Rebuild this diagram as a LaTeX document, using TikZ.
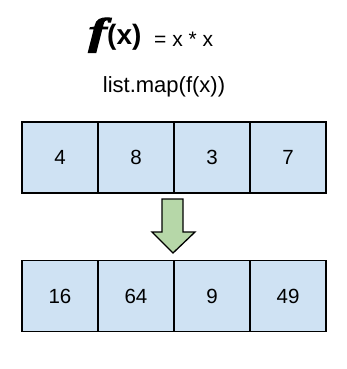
\documentclass[tikz,border=0pt]{standalone}
\usepackage{amsmath,amssymb}
\usepackage{fontspec}
\setmainfont{Liberation Sans}
\newfontfamily\fnfont[FakeBold=2.5]{Liberation Serif}
\usepackage{tikz}

\definecolor{cellblue}{HTML}{CFE2F3}
\definecolor{arrowgreen}{HTML}{B6D7A8}

\begin{document}
\begin{tikzpicture}[x=1pt,y=-1pt,
    cell/.style={draw,fill=cellblue,line width=1.4pt,minimum width=76pt,
      minimum height=71pt,inner sep=0pt,font=\fontsize{20.5}{24}\selectfont}]
  \useasboundingbox (0,0) rectangle (347,369);
  % the function and the call
  \node[anchor=base east,inner sep=0pt] (fname) at (107,44.5)
    {\fontsize{38}{40}\fnfont\bfseries\itshape\scalebox{1.45}[1]{f}};
  \node[anchor=base west,inner sep=0pt] (farg) at (107,44.5)
    {\fontsize{28}{30}\selectfont\bfseries(x)};
  \node[anchor=base west,inner sep=0pt] (fbody) at (154,46)
    {\fontsize{21}{24}\selectfont= x * x};
  \node[anchor=base,inner sep=0pt] (call) at (164,92)
    {\fontsize{22}{26}\selectfont list.map(f(x))};
  % input list and mapped list
  \foreach \v [count=\i] in {4,8,3,7}
    \node[cell] (in\i) at ({-16+76*\i},157.5) {\v};
  \foreach \v [count=\i] in {16,64,9,49}
    \node[cell] (out\i) at ({-16+76*\i},296) {\v};
  % block arrow between the rows
  \draw[fill=arrowgreen,line width=1.3pt,line join=miter]
    (162,199) -- (183,199) -- (183,232) -- (195,232) -- (173,253)
    -- (152,232) -- (162,232) -- cycle;
\end{tikzpicture}
\end{document}
